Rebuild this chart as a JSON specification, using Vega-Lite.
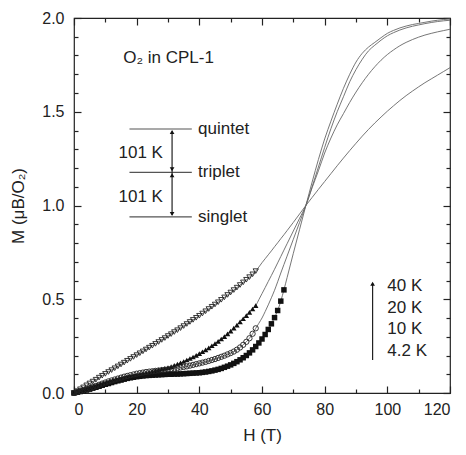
{
"$schema":"https://vega.github.io/schema/vega-lite/v6.json",
"width":376,"height":375,
"autosize":"none",
"padding":{"left":74,"top":18,"right":16,"bottom":62},
"config":{"view":{"stroke":"#222","strokeWidth":1.2},"font":"Liberation Sans",
 "axis":{"labelColor":"#222","titleColor":"#222","tickColor":"#222","labelFont":"Liberation Sans","titleFont":"Liberation Sans","titleFontWeight":"normal","grid":false}},
"datasets":{
"curves":[
{"H":0,"t4":0,"t10":0,"t20":0,"t40":0},
{"H":1,"t4":0.004,"t10":0.005,"t20":0.003,"t40":0.010},
{"H":2,"t4":0.008,"t10":0.010,"t20":0.007,"t40":0.020},
{"H":3,"t4":0.012,"t10":0.015,"t20":0.011,"t40":0.030},
{"H":4,"t4":0.017,"t10":0.020,"t20":0.015,"t40":0.041},
{"H":5,"t4":0.022,"t10":0.026,"t20":0.019,"t40":0.051},
{"H":6,"t4":0.027,"t10":0.032,"t20":0.024,"t40":0.061},
{"H":7,"t4":0.032,"t10":0.038,"t20":0.029,"t40":0.071},
{"H":8,"t4":0.037,"t10":0.044,"t20":0.034,"t40":0.082},
{"H":9,"t4":0.042,"t10":0.050,"t20":0.039,"t40":0.092},
{"H":10,"t4":0.047,"t10":0.056,"t20":0.044,"t40":0.102},
{"H":11,"t4":0.052,"t10":0.062,"t20":0.049,"t40":0.112},
{"H":12,"t4":0.057,"t10":0.067,"t20":0.054,"t40":0.122},
{"H":13,"t4":0.062,"t10":0.072,"t20":0.059,"t40":0.132},
{"H":14,"t4":0.066,"t10":0.077,"t20":0.064,"t40":0.142},
{"H":15,"t4":0.070,"t10":0.082,"t20":0.069,"t40":0.152},
{"H":16,"t4":0.074,"t10":0.087,"t20":0.074,"t40":0.162},
{"H":17,"t4":0.078,"t10":0.091,"t20":0.079,"t40":0.172},
{"H":18,"t4":0.081,"t10":0.095,"t20":0.084,"t40":0.182},
{"H":19,"t4":0.084,"t10":0.099,"t20":0.089,"t40":0.192},
{"H":20,"t4":0.087,"t10":0.103,"t20":0.093,"t40":0.202},
{"H":21,"t4":0.089,"t10":0.106,"t20":0.098,"t40":0.212},
{"H":22,"t4":0.091,"t10":0.109,"t20":0.102,"t40":0.222},
{"H":23,"t4":0.093,"t10":0.112,"t20":0.106,"t40":0.232},
{"H":24,"t4":0.094,"t10":0.114,"t20":0.110,"t40":0.242},
{"H":25,"t4":0.095,"t10":0.116,"t20":0.115,"t40":0.252},
{"H":26,"t4":0.096,"t10":0.118,"t20":0.119,"t40":0.262},
{"H":27,"t4":0.097,"t10":0.120,"t20":0.123,"t40":0.272},
{"H":28,"t4":0.098,"t10":0.122,"t20":0.127,"t40":0.283},
{"H":29,"t4":0.099,"t10":0.124,"t20":0.131,"t40":0.293},
{"H":30,"t4":0.100,"t10":0.126,"t20":0.135,"t40":0.304},
{"H":31,"t4":0.100,"t10":0.128,"t20":0.141,"t40":0.314},
{"H":32,"t4":0.101,"t10":0.130,"t20":0.147,"t40":0.325},
{"H":33,"t4":0.101,"t10":0.133,"t20":0.154,"t40":0.335},
{"H":34,"t4":0.102,"t10":0.136,"t20":0.161,"t40":0.346},
{"H":35,"t4":0.103,"t10":0.139,"t20":0.168,"t40":0.357},
{"H":36,"t4":0.104,"t10":0.142,"t20":0.176,"t40":0.368},
{"H":37,"t4":0.105,"t10":0.146,"t20":0.184,"t40":0.379},
{"H":38,"t4":0.106,"t10":0.150,"t20":0.192,"t40":0.390},
{"H":39,"t4":0.107,"t10":0.154,"t20":0.201,"t40":0.401},
{"H":40,"t4":0.108,"t10":0.158,"t20":0.210,"t40":0.412},
{"H":41,"t4":0.110,"t10":0.162,"t20":0.220,"t40":0.424},
{"H":42,"t4":0.112,"t10":0.166,"t20":0.230,"t40":0.436},
{"H":43,"t4":0.115,"t10":0.171,"t20":0.241,"t40":0.448},
{"H":44,"t4":0.118,"t10":0.176,"t20":0.252,"t40":0.460},
{"H":45,"t4":0.122,"t10":0.181,"t20":0.263,"t40":0.472},
{"H":46,"t4":0.126,"t10":0.187,"t20":0.275,"t40":0.484},
{"H":47,"t4":0.131,"t10":0.193,"t20":0.288,"t40":0.497},
{"H":48,"t4":0.137,"t10":0.199,"t20":0.301,"t40":0.510},
{"H":49,"t4":0.143,"t10":0.206,"t20":0.315,"t40":0.523},
{"H":50,"t4":0.150,"t10":0.213,"t20":0.330,"t40":0.536},
{"H":51,"t4":0.158,"t10":0.221,"t20":0.346,"t40":0.549},
{"H":52,"t4":0.167,"t10":0.231,"t20":0.362,"t40":0.562},
{"H":53,"t4":0.177,"t10":0.243,"t20":0.379,"t40":0.576},
{"H":54,"t4":0.188,"t10":0.257,"t20":0.396,"t40":0.590},
{"H":55,"t4":0.200,"t10":0.273,"t20":0.413,"t40":0.604},
{"H":56,"t4":0.214,"t10":0.292,"t20":0.430,"t40":0.618},
{"H":57,"t4":0.230,"t10":0.316,"t20":0.448,"t40":0.633},
{"H":58,"t4":0.248,"t10":0.345,"t20":0.466,"t40":0.650},
{"H":59,"t4":0.267,"t10":0.372,"t20":0.498,"t40":0.672},
{"H":60,"t4":0.288,"t10":0.400,"t20":0.530,"t40":0.695},
{"H":61,"t4":0.312,"t10":0.434,"t20":0.562,"t40":0.716},
{"H":62,"t4":0.339,"t10":0.470,"t20":0.595,"t40":0.737},
{"H":63,"t4":0.369,"t10":0.508,"t20":0.627,"t40":0.758},
{"H":64,"t4":0.402,"t10":0.548,"t20":0.660,"t40":0.780},
{"H":65,"t4":0.440,"t10":0.593,"t20":0.694,"t40":0.801},
{"H":66,"t4":0.490,"t10":0.640,"t20":0.728,"t40":0.823},
{"H":67,"t4":0.550,"t10":0.685,"t20":0.762,"t40":0.844},
{"H":68,"t4":0.615,"t10":0.730,"t20":0.796,"t40":0.866},
{"H":70,"t4":0.745,"t10":0.820,"t20":0.864,"t40":0.910},
{"H":72,"t4":0.873,"t10":0.910,"t20":0.932,"t40":0.955},
{"H":74,"t4":1.000,"t10":1.000,"t20":1.000,"t40":1.000},
{"H":76,"t4":1.125,"t10":1.100,"t20":1.095,"t40":1.043},
{"H":78,"t4":1.245,"t10":1.205,"t20":1.185,"t40":1.086},
{"H":80,"t4":1.355,"t10":1.310,"t20":1.280,"t40":1.128},
{"H":82,"t4":1.450,"t10":1.410,"t20":1.360,"t40":1.170},
{"H":84,"t4":1.540,"t10":1.500,"t20":1.430,"t40":1.212},
{"H":86,"t4":1.625,"t10":1.580,"t20":1.490,"t40":1.253},
{"H":88,"t4":1.700,"t10":1.660,"t20":1.550,"t40":1.293},
{"H":90,"t4":1.765,"t10":1.725,"t20":1.605,"t40":1.332},
{"H":92,"t4":1.812,"t10":1.780,"t20":1.655,"t40":1.370},
{"H":94,"t4":1.845,"t10":1.825,"t20":1.700,"t40":1.406},
{"H":96,"t4":1.870,"t10":1.855,"t20":1.740,"t40":1.440},
{"H":98,"t4":1.895,"t10":1.882,"t20":1.775,"t40":1.472},
{"H":100,"t4":1.918,"t10":1.905,"t20":1.805,"t40":1.503},
{"H":102,"t4":1.934,"t10":1.922,"t20":1.830,"t40":1.532},
{"H":104,"t4":1.947,"t10":1.936,"t20":1.852,"t40":1.560},
{"H":106,"t4":1.957,"t10":1.947,"t20":1.870,"t40":1.586},
{"H":108,"t4":1.965,"t10":1.956,"t20":1.885,"t40":1.610},
{"H":110,"t4":1.971,"t10":1.963,"t20":1.898,"t40":1.633},
{"H":112,"t4":1.977,"t10":1.970,"t20":1.909,"t40":1.655},
{"H":114,"t4":1.983,"t10":1.976,"t20":1.918,"t40":1.675},
{"H":116,"t4":1.988,"t10":1.981,"t20":1.926,"t40":1.695},
{"H":118,"t4":1.992,"t10":1.985,"t20":1.933,"t40":1.715},
{"H":120,"t4":1.995,"t10":1.988,"t20":1.940,"t40":1.735}
],
"texts":[
{"H":15.7,"M":1.785,"text":"O₂ in CPL-1"},
{"H":14.2,"M":1.278,"text":"101 K"},
{"H":14.2,"M":1.044,"text":"101 K"},
{"H":39.6,"M":1.408,"text":"quintet"},
{"H":39.6,"M":1.177,"text":"triplet"},
{"H":39.6,"M":0.939,"text":"singlet"},
{"H":100,"M":0.571,"text":"40 K"},
{"H":100,"M":0.452,"text":"20 K"},
{"H":100,"M":0.340,"text":"10 K"},
{"H":100,"M":0.226,"text":"4.2 K"}
],
"levels":[
{"H":17.7,"H2":37.6,"M":1.408},
{"H":17.7,"H2":37.6,"M":1.177},
{"H":17.7,"H2":37.6,"M":0.939}
],
"shafts":[
{"H":31.3,"M":0.95,"M2":1.395},
{"H":95.3,"M":0.176,"M2":0.585}
],
"headsUp":[
{"H":31.3,"M":1.408},
{"H":31.3,"M":1.177},
{"H":95.3,"M":0.599}
],
"headsDown":[
{"H":31.3,"M":1.177},
{"H":31.3,"M":0.939}
]
},
"resolve":{"axis":{"x":"independent","y":"independent"}},
"layer":[
{"data":{"name":"curves"},
 "transform":[{"fold":["t4","t10","t20","t40"],"as":["T","M"]}],
 "mark":{"type":"line","color":"#666","strokeWidth":0.9,"interpolate":"monotone"},
 "encoding":{
  "x":{"field":"H","type":"quantitative","scale":{"domain":[0,120],"nice":false},
   "axis":{"orient":"bottom","values":[0,20,40,60,80,100,120],"format":"d","ticks":false,"domain":false,"labelPadding":8,"labelFontSize":16,"title":"H (T)","titleFontSize":17,"titlePadding":10}},
  "y":{"field":"M","type":"quantitative","scale":{"domain":[0,2],"nice":false},
   "axis":{"orient":"left","values":[0,0.5,1,1.5,2],"format":".1f","ticks":false,"domain":false,"labelPadding":10,"labelFontSize":16,"title":"M (μB/O₂)","titleFontSize":17,"titlePadding":14}},
  "detail":{"field":"T"}}},
{"data":{"name":"curves"},
 "transform":[{"fold":["t4","t10","t20","t40"],"as":["T","M"]},{"filter":"(datum.T=='t4' && datum.H<=67) || (datum.T=='t20' && datum.H<=58)"}],
 "mark":{"type":"point","filled":true,"color":"#111","size":30,"opacity":1},
 "encoding":{
  "x":{"field":"H","type":"quantitative","axis":{"orient":"bottom","values":[0,10,20,30,40,50,60,70,80,90,100,110,120],"labels":false,"domain":false,"title":null,"tickSize":{"condition":{"test":"datum.value % 20 == 0","value":-7},"value":-4},"tickWidth":1.2}},
  "y":{"field":"M","type":"quantitative","axis":{"orient":"left","values":[0,0.1,0.2,0.3,0.4,0.5,0.6,0.7,0.8,0.9,1,1.1,1.2,1.3,1.4,1.5,1.6,1.7,1.8,1.9,2],"labels":false,"domain":false,"title":null,"tickSize":{"condition":{"test":"round(datum.value*10) % 5 == 0","value":-7},"value":-4},"tickWidth":1.2}},
  "shape":{"field":"T","type":"nominal","scale":{"domain":["t4","t10","t20","t40"],"range":["square","circle","triangle-up","triangle-down"]},"legend":null}}},
{"data":{"name":"curves"},
 "transform":[{"fold":["t4","t10","t20","t40"],"as":["T","M"]},{"filter":"(datum.T=='t10' || datum.T=='t40') && datum.H<=58"}],
 "mark":{"type":"point","filled":false,"color":"#222","size":28,"strokeWidth":0.9,"opacity":1},
 "encoding":{
  "x":{"field":"H","type":"quantitative","axis":{"orient":"top","values":[0,10,20,30,40,50,60,70,80,90,100,110,120],"labels":false,"domain":false,"title":null,"tickSize":{"condition":{"test":"datum.value % 20 == 0","value":-7},"value":-4},"tickWidth":1.2}},
  "y":{"field":"M","type":"quantitative","axis":{"orient":"right","values":[0,0.1,0.2,0.3,0.4,0.5,0.6,0.7,0.8,0.9,1,1.1,1.2,1.3,1.4,1.5,1.6,1.7,1.8,1.9,2],"labels":false,"domain":false,"title":null,"tickSize":{"condition":{"test":"round(datum.value*10) % 5 == 0","value":-7},"value":-4},"tickWidth":1.2}},
  "shape":{"field":"T","type":"nominal","legend":null}}},
{"data":{"name":"levels"},
 "mark":{"type":"rule","color":"#555","strokeWidth":1.2},
 "encoding":{"x":{"field":"H","type":"quantitative","axis":null},"x2":{"field":"H2"},"y":{"field":"M","type":"quantitative","axis":null}}},
{"data":{"name":"shafts"},
 "mark":{"type":"rule","color":"#222","strokeWidth":1.2},
 "encoding":{"x":{"field":"H","type":"quantitative","axis":null},"y":{"field":"M","type":"quantitative","axis":null},"y2":{"field":"M2"}}},
{"data":{"name":"headsUp"},
 "mark":{"type":"point","shape":"triangle-up","filled":true,"color":"#111","size":22,"yOffset":3,"opacity":1},
 "encoding":{"x":{"field":"H","type":"quantitative","axis":null},"y":{"field":"M","type":"quantitative","axis":null}}},
{"data":{"name":"headsDown"},
 "mark":{"type":"point","shape":"triangle-down","filled":true,"color":"#111","size":22,"yOffset":-3,"opacity":1},
 "encoding":{"x":{"field":"H","type":"quantitative","axis":null},"y":{"field":"M","type":"quantitative","axis":null}}},
{"data":{"name":"texts"},
 "mark":{"type":"text","align":"left","baseline":"middle","fontSize":17,"color":"#222","font":"Liberation Sans"},
 "encoding":{"x":{"field":"H","type":"quantitative","axis":null},"y":{"field":"M","type":"quantitative","axis":null},"text":{"field":"text"}}}
]
}
